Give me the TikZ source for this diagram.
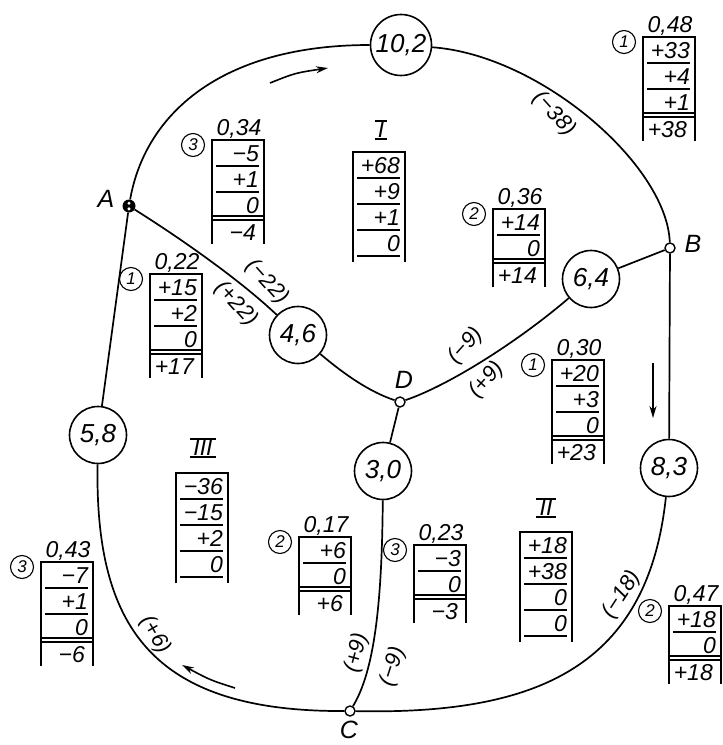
\documentclass[tikz,border=0pt]{standalone}
\usepackage{fontspec}
\setmainfont{Liberation Sans}
\usetikzlibrary{arrows.meta}

% #1 name, #2 left, #3 top, #4 number of rows, #5 rows, #6 sum row (may be empty), #7 circled digit, #8 header
\newcommand{\ftab}[8]{%
 \begin{scope}[shift={(#2,#3)}]
  \foreach \v [count=\i] in {#5} {
    \node[cellnum] (#1-\i) at (47,{\i*26-5}) {\v};
  }
  \if\relax\detokenize{#6}\relax
    \foreach \i in {1,...,#4} {\draw[sepline] (4,{\i*26}) -- (47,{\i*26});}
    \draw[boxline] (0,{#4*26+6}) -- (0,0) -- (52,0) -- (52,{#4*26+6});
  \else
    \pgfmathtruncatemacro{\ftabm}{#4-1}
    \foreach \i in {1,...,\ftabm} {\draw[sepline] (4,{\i*26}) -- (47,{\i*26});}
    \draw[sepline] (0,{#4*26-1.8}) -- (52,{#4*26-1.8});
    \draw[sepline] (0,{#4*26+1.8}) -- (52,{#4*26+1.8});
    \node[cellnum] (#1-s) at (44,{(#4+1)*26-4}) {#6};
    \draw[boxline] (0,{(#4+1)*26}) -- (0,0) -- (52,0) -- (52,{(#4+1)*26});
  \fi
  \if\relax\detokenize{#7}\relax\else
    \node[circnum] (#1-c) at (-19,5) {#7};
    \node[headnum] (#1-h) at (27,-5) {#8};
  \fi
 \end{scope}}

\begin{document}
\begin{tikzpicture}[x=1pt,y=-1pt,
  every node/.style={font=\itshape},
  flow/.style={line width=1.7pt},
  bignode/.style={circle,draw,line width=1.6pt,minimum size=57pt,inner sep=0pt,fill=white,
    font=\fontsize{26}{26}\selectfont\itshape},
  junction/.style={circle,draw,line width=1.4pt,fill=white,minimum size=10pt,inner sep=0pt},
  junctionA/.style={circle,fill=black,minimum size=13pt,inner sep=0pt},
  ptlabel/.style={font=\fontsize{25}{25}\selectfont\itshape,inner sep=0pt},
  cellnum/.style={anchor=base east,inner sep=0pt,font=\fontsize{23}{23}\selectfont\itshape},
  headnum/.style={anchor=base,inner sep=0pt,font=\fontsize{23}{23}\selectfont\itshape},
  circnum/.style={circle,draw,line width=1.1pt,minimum size=23pt,inner sep=0pt,
    font=\fontsize{17}{17}\selectfont\itshape},
  boxline/.style={line width=1.6pt},
  sepline/.style={line width=1.5pt},
  edgelbl/.style={font=\fontsize{22}{22}\selectfont\itshape,inner sep=0pt},
  dirarrow/.style={line width=1.6pt,-{Stealth[length=12pt,width=7pt]}},
  romanlbl/.style={font=\fontsize{23}{23}\selectfont\itshape,inner sep=1pt,inner xsep=3pt}
]
\useasboundingbox (0,0) rectangle (723,745);

% loop nodes
\node[bignode,minimum size=61pt] (n102) at (401,45) {10,2};
\node[bignode] (n64) at (591,279) {6,4};
\node[bignode] (n46) at (298,335) {4,6};
\node[bignode] (n30) at (383,471) {3,0};
\node[bignode] (n83) at (669,468) {8,3};
\node[bignode] (n58) at (98,435) {5,8};
\node[junctionA] (A) at (129,206) {};
\node[junction] (B) at (670,248) {};
\node[junction] (D) at (400,402) {};
\node[junction] (C) at (350,711) {};
\fill[white] (A) ++(0,-2.8) circle[radius=1.7];
\fill[white] (A) ++(0,2.8) circle[radius=1.7];

% edges
\draw[flow] (A) .. controls (145,115) and (220,45) .. (n102);
\draw[flow] (n102) .. controls (540,55) and (667,165) .. (B);
\draw[flow] (B) -- (n83);
\draw[flow] (n83) .. controls (648,665) and (540,715) .. (C);
\draw[flow] (C) .. controls (150,712) and (95,625) .. (n58);
\draw[flow] (n58) -- (A);
\draw[flow] (A) .. controls (180,238) and (240,280) .. (n46);
\draw[flow] (n46) .. controls (345,375) and (370,392) .. (D);
\draw[flow] (D) .. controls (450,385) and (520,340) .. (n64);
\draw[flow] (n64) -- (B);
\draw[flow] (D) -- (n30);
\draw[flow] (n30) .. controls (382,600) and (375,670) .. (C);

% point labels
\node[ptlabel] (lA) at (106,199) {A};
\node[ptlabel] (lB) at (693,244) {B};
\node[ptlabel] (lC) at (349,730) {C};
\node[ptlabel] (lD) at (404,380) {D};

% edge labels
\node[edgelbl,rotate=-48] (l38) at (554,114) {(−38)};
\node[edgelbl,rotate=-48] (l22a) at (267,282) {(−22)};
\node[edgelbl,rotate=-48] (l22b) at (236,304) {(+22)};
\node[edgelbl,rotate=48] (l9a) at (466,346) {(−9)};
\node[edgelbl,rotate=48] (l9b) at (487,380) {(+9)};
\node[edgelbl,rotate=-60] (l6) at (155,635) {(+6)};
\node[edgelbl,rotate=75] (l9c) at (357,653) {(+9)};
\node[edgelbl,rotate=72] (l9d) at (393,667) {(−9)};
\node[edgelbl,rotate=57] (l18) at (622,595) {(−18)};

% direction arrows
\coordinate (ar1s) at (270,83); \coordinate (ar1e) at (328,68);
\draw[dirarrow] (ar1s) .. controls (295,73) .. (ar1e);
\coordinate (ar2s) at (653,363); \coordinate (ar2e) at (653,418);
\draw[dirarrow] (ar2s) -- (ar2e);
\coordinate (ar3s) at (235,688); \coordinate (ar3e) at (182,665);
\draw[dirarrow] (ar3s) .. controls (210,680) .. (ar3e);

% tables
\ftab{t034}{212}{140}{3}{−5,+1,0}{−4}{3}{0,34}
\ftab{tI}{353}{152}{4}{+68,+9,+1,0}{}{}{}
\ftab{t048}{643}{37}{3}{+33,+4,+1}{+38}{1}{0,48}
\ftab{t036}{493}{209}{2}{+14,0}{+14}{2}{0,36}
\ftab{t022}{150}{274}{3}{+15,+2,0}{+17}{1}{0,22}
\ftab{t030}{552}{360}{3}{+20,+3,0}{+23}{1}{0,30}
\ftab{tIII}{176}{473}{4}{−36,−15,+2,0}{}{}{}
\ftab{t043}{41}{562}{3}{−7,+1,0}{−6}{3}{0,43}
\ftab{t017}{299}{537}{2}{+6,0}{+6}{2}{0,17}
\ftab{t023}{414}{545}{2}{−3,0}{−3}{3}{0,23}
\ftab{tII}{520}{532}{4}{+18,+38,0,0}{}{}{}
\ftab{t047}{669}{606}{2}{+18,0}{+18}{2}{0,47}

% region numerals
\node[romanlbl] (rI) at (381,130) {I};
\draw[sepline] (rI.north west) -- (rI.north east);
\draw[sepline] (rI.south west) -- (rI.south east);
\node[romanlbl] (rII) at (546,508) {II};
\draw[sepline] (rII.north west) -- (rII.north east);
\draw[sepline] (rII.south west) -- (rII.south east);
\node[romanlbl] (rIII) at (203,448) {III};
\draw[sepline] (rIII.north west) -- (rIII.north east);
\draw[sepline] (rIII.south west) -- (rIII.south east);
\end{tikzpicture}
\end{document}
